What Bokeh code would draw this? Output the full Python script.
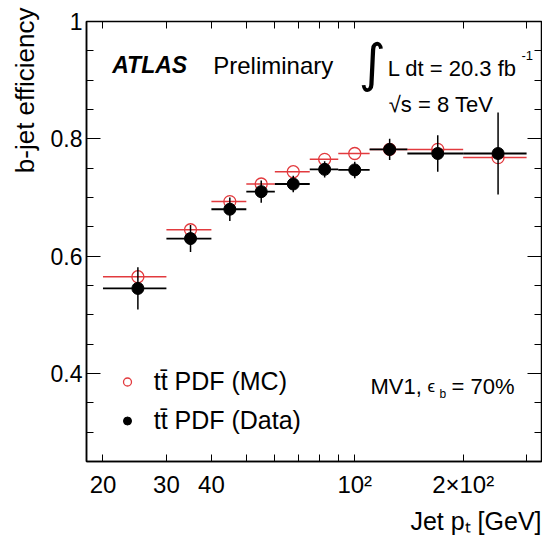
import math
from bokeh.plotting import figure
from bokeh.models import (FixedTicker, LogAxis, LinearAxis, Label, Legend, LegendItem, Title)
from bokeh.embed import file_html
from bokeh.resources import INLINE

# ---------------- data ----------------
pt_lo = [20, 30, 40, 50, 60, 75, 90, 110, 140, 200]
pt_hi = [30, 40, 50, 60, 75, 90, 110, 140, 200, 300]
pt_center = [25, 35, 45, 55, 67.5, 82.5, 100, 125, 170, 250]
eff_mc = [0.565, 0.645, 0.693, 0.723, 0.744, 0.765, 0.775, 0.782, 0.782, 0.768]
eff_data = [0.545, 0.630, 0.680, 0.710, 0.723, 0.748, 0.747, 0.782, 0.775, 0.775]
err_data = [0.036, 0.023, 0.020, 0.019, 0.014, 0.014, 0.014, 0.018, 0.031, 0.070]

x_ticks = [20, 30, 40, 100, 200]
x_tick_labels = ["20", "30", "40", "10\u00b2", "2\u00d710\u00b2"]
x_minor = [50, 60, 70, 80, 90, 300]
y_ticks = [0.4, 0.6, 0.8, 1.0]
y_tick_labels = ["0.4", "0.6", "0.8", "1"]
y_minor = [0.25, 0.3, 0.35, 0.45, 0.5, 0.55, 0.65, 0.7, 0.75, 0.85, 0.9, 0.95]

RED = "#e23a3e"
FONT = "Liberation Sans"

# frame placement in the canvas
FL, FB = 86, 461

p = figure(width=542, height=539, x_axis_type="log", x_range=(18, 330), y_range=(0.25, 1.0),
           output_backend="svg", toolbar_location=None,
           min_border_left=FL, min_border_right=1, min_border_top=21, min_border_bottom=539 - FB)
p.xgrid.visible = False
p.ygrid.visible = False
p.outline_line_color = "black"
p.outline_line_width = 1.5
p.background_fill_color = "white"
p.border_fill_color = "white"

xt = FixedTicker(ticks=x_ticks, minor_ticks=x_minor)
yt = FixedTicker(ticks=y_ticks, minor_ticks=y_minor)

xa = p.xaxis[0]
xa.ticker = xt
xa.major_label_overrides = {t: l for t, l in zip(x_ticks, x_tick_labels)}
xa.major_tick_in = 7
xa.major_tick_out = 0
xa.minor_tick_in = 7
xa.minor_tick_out = 0
xa.axis_line_width = 1.5
xa.major_label_standoff = 9
xa.major_label_text_font = FONT
xa.major_label_text_font_size = "24px"
xa.major_label_text_color = "black"

ya = p.yaxis[0]
ya.ticker = yt
ya.major_label_overrides = {t: l for t, l in zip(y_ticks, y_tick_labels)}
ya.major_tick_in = 14
ya.major_tick_out = 0
ya.minor_tick_in = 7
ya.minor_tick_out = 0
ya.axis_line_width = 1.5
ya.major_label_standoff = 4
ya.major_label_text_font = FONT
ya.major_label_text_font_size = "23px"
ya.major_label_text_color = "black"

top = LogAxis(ticker=xt, major_tick_in=7, major_tick_out=0, minor_tick_in=7, minor_tick_out=0,
              major_label_overrides={t: "" for t in x_ticks},
              major_label_text_font_size="1px", major_label_standoff=0, axis_line_color=None)
right = LinearAxis(ticker=yt, major_tick_in=14, major_tick_out=0, minor_tick_in=7, minor_tick_out=0,
                   major_label_overrides={t: "" for t in y_ticks},
                   major_label_text_font_size="1px", major_label_standoff=0, axis_line_color=None)
p.add_layout(top, "above")
p.add_layout(right, "right")

# axis titles (as side-panel titles so that they can be end-aligned)
p.add_layout(Title(text="b-jet efficiency", align="right", vertical_align="top", offset=-14,
                   standoff=12, text_font=FONT, text_font_size="26px", text_font_style="normal",
                   text_color="black"), "left")
p.add_layout(Title(text="Jet p\u209c [GeV]", align="right", standoff=8,
                   text_font=FONT, text_font_size="25px", text_font_style="normal",
                   text_color="black"), "below")

# ---------------- marks ----------------
p.segment(x0=pt_lo, y0=eff_mc, x1=pt_hi, y1=eff_mc, line_color=RED, line_width=1.5)
r_mc = p.scatter(pt_center, eff_mc, marker="circle", size=12, fill_color=None,
                 line_color=RED, line_width=1.3)
p.segment(x0=pt_lo, y0=eff_data, x1=pt_hi, y1=eff_data, line_color="black", line_width=1.8)
lo = [v - e for v, e in zip(eff_data, err_data)]
hi = [v + e for v, e in zip(eff_data, err_data)]
p.segment(x0=pt_center, y0=lo, x1=pt_center, y1=hi, line_color="black", line_width=1.5)
r_data = p.scatter(pt_center, eff_data, marker="circle", size=12, fill_color="black",
                   line_color="black")

legend = Legend(items=[LegendItem(label="tt\u0304 PDF (MC)", renderers=[r_mc]),
                       LegendItem(label="tt\u0304 PDF (Data)", renderers=[r_data])],
                location=(30.7, 21.5), orientation="vertical")
legend.border_line_color = None
legend.background_fill_alpha = 0
legend.padding = 0
legend.margin = 0
legend.spacing = 0
legend.glyph_width = 20
legend.glyph_height = 39
legend.label_height = 39
legend.label_standoff = 17
legend.label_text_font = FONT
legend.label_text_font_size = "25px"
legend.label_text_color = "black"
p.add_layout(legend)

DY = 8  # baseline correction


def lab(text, X, Y, size, style="normal", align="left", font=FONT, dy=DY):
    p.add_layout(Label(x=X - FL, y=FB - (Y - dy), x_units="screen", y_units="screen", text=text,
                       text_font=font, text_font_size=f"{size}px", text_font_style=style,
                       text_align=align, text_baseline="alphabetic", text_color="black"))


lab("ATLAS", 111.7, 72.7, 23, style="bold italic")
lab("Preliminary", 212.7, 72.7, 24)
lab("\u222b", 371.5, 62.5, 52, align="center", font="DejaVu Sans", dy=0)
lab("L dt = 20.3 fb", 387.3, 75.7, 22)
lab("-1", 521, 63.3, 13)
lab("\u221as = 8 TeV", 388.3, 111.7, 22)
lab("MV1,", 370, 394, 22)
lab("\u03f5", 427, 394, 17)
lab("b", 439, 401.5, 12)
lab("= 70%", 451, 394, 22)

open("out.html", "w").write(file_html(p, INLINE))
